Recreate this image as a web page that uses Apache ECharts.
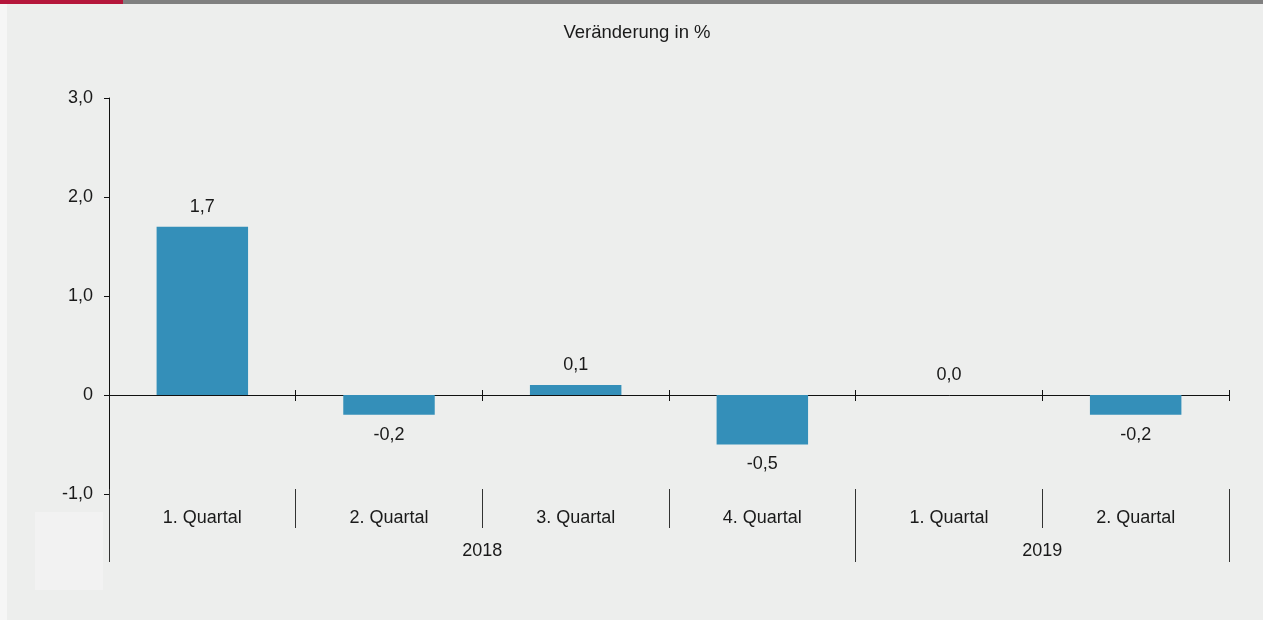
<!DOCTYPE html>
<html>
<head>
<meta charset="utf-8">
<script src="https://cdn.jsdelivr.net/npm/echarts@6/dist/echarts.min.js"></script>
<style>
    html, body { margin: 0; padding: 0; background: #f6f6f6; }
    #chart { width: 1263px; height: 620px; }
</style>
</head>
<body>
<div id="chart"></div>
<script>
const quarters = ['1. Quartal', '2. Quartal', '3. Quartal', '4. Quartal', '1. Quartal', '2. Quartal']
const values = [1.7, -0.2, 0.1, -0.5, 0.0, -0.2]
const years = ['2018', '2019']
const yearQuarterCounts = [4, 2]
const yTicks = [-1, 0, 1, 2, 3]

const FONT = '"Liberation Sans", Arial, sans-serif'
const TEXT = '#1a1a1a'
const LINE = '#111'

// year boundaries and centers on a 0..n value scale
const yearBounds = [0]
const yearCenters = []
yearQuarterCounts.forEach((n) => {
    const start = yearBounds[yearBounds.length - 1]
    yearCenters.push(start + n / 2)
    yearBounds.push(start + n)
})

const fmt = (v) => (v === 0 ? '0' : v.toFixed(1).replace('.', ','))

const gridBox = { left: 109, right: 34, top: 98, bottom: 126 }

const chart = echarts.init(document.getElementById('chart'))

chart.setOption({
    animation: false,
    textStyle: { fontFamily: FONT },
    graphic: [
        { type: 'rect', z: -10, shape: { x: 7, y: 4, width: 1256, height: 616 }, style: { fill: '#edeeed' } },
        { type: 'rect', z: -9, shape: { x: 35, y: 512, width: 68, height: 78 }, style: { fill: '#f2f2f2' } },
        { type: 'rect', shape: { x: 0, y: 0, width: 123, height: 4 }, style: { fill: '#b5163b' } },
        { type: 'rect', shape: { x: 123, y: 0, width: 1140, height: 4 }, style: { fill: '#808080' } },
        {
            type: 'text',
            x: 637,
            y: 33,
            style: {
                text: 'Veränderung in %',
                font: '18.5px ' + FONT,
                fill: TEXT,
                align: 'center',
                verticalAlign: 'middle',
            },
        },
    ],
    grid: [
        { ...gridBox },
        { ...gridBox },
        { ...gridBox },
        // upper half only, so its bottom edge sits on the zero line
        { left: 109, right: 34, top: 98, bottom: 225 },
    ],
    yAxis: [
        {
            gridIndex: 0,
            type: 'value',
            min: yTicks[0],
            max: yTicks[yTicks.length - 1],
            interval: 1,
            axisLine: { show: true, lineStyle: { color: LINE, width: 1 } },
            axisTick: { show: true, length: 5, lineStyle: { color: LINE } },
            splitLine: { show: false },
            axisLabel: {
                color: TEXT,
                fontSize: 18,
                margin: 16,
                formatter: fmt,
            },
        },
        { gridIndex: 1, type: 'value', min: -1, max: 3, show: false },
        { gridIndex: 2, type: 'value', min: -1, max: 3, show: false },
        { gridIndex: 3, type: 'value', min: 0, max: 3, show: false },
    ],
    xAxis: [
        {
            // zero line, ticks going down
            gridIndex: 0,
            type: 'category',
            data: quarters,
            position: 'bottom',
            axisLine: { show: true, onZero: true, lineStyle: { color: LINE } },
            axisTick: { show: true, length: 6, lineStyle: { color: LINE } },
            axisLabel: { show: false },
        },
        {
            // quarter labels with separators
            gridIndex: 1,
            type: 'category',
            data: quarters,
            position: 'bottom',
            offset: -5,
            axisLine: { show: false, onZero: false },
            axisTick: { show: true, length: 39, lineStyle: { color: '#333' } },
            axisLabel: { color: TEXT, fontSize: 18, margin: 20 },
        },
        {
            // year labels with long separators
            gridIndex: 2,
            type: 'value',
            min: 0,
            max: quarters.length,
            position: 'bottom',
            offset: -5,
            splitLine: { show: false },
            axisLine: { show: false, onZero: false },
            axisTick: { show: true, length: 73, customValues: yearBounds, lineStyle: { color: '#333' } },
            axisLabel: {
                color: TEXT,
                fontSize: 18,
                margin: 53,
                customValues: yearCenters,
                formatter: (v) => years[yearCenters.indexOf(v)] || '',
            },
        },
        {
            // zero line, ticks going up
            gridIndex: 3,
            type: 'category',
            data: quarters,
            position: 'bottom',
            axisLine: { show: false, onZero: false },
            axisTick: { show: true, inside: true, length: 5, lineStyle: { color: LINE } },
            axisLabel: { show: false },
        },
    ],
    series: [
        {
            type: 'bar',
            xAxisIndex: 0,
            yAxisIndex: 0,
            barWidth: '49%',
            itemStyle: { color: '#348fb9' },
            label: {
                show: true,
                color: TEXT,
                fontSize: 18,
                distance: 11,
                formatter: (p) => p.value.toFixed(1).replace('.', ','),
            },
            data: values.map((v) => ({
                value: v,
                label: { position: v < 0 ? 'bottom' : 'top' },
            })),
        },
    ],
})
</script>
</body>
</html>
